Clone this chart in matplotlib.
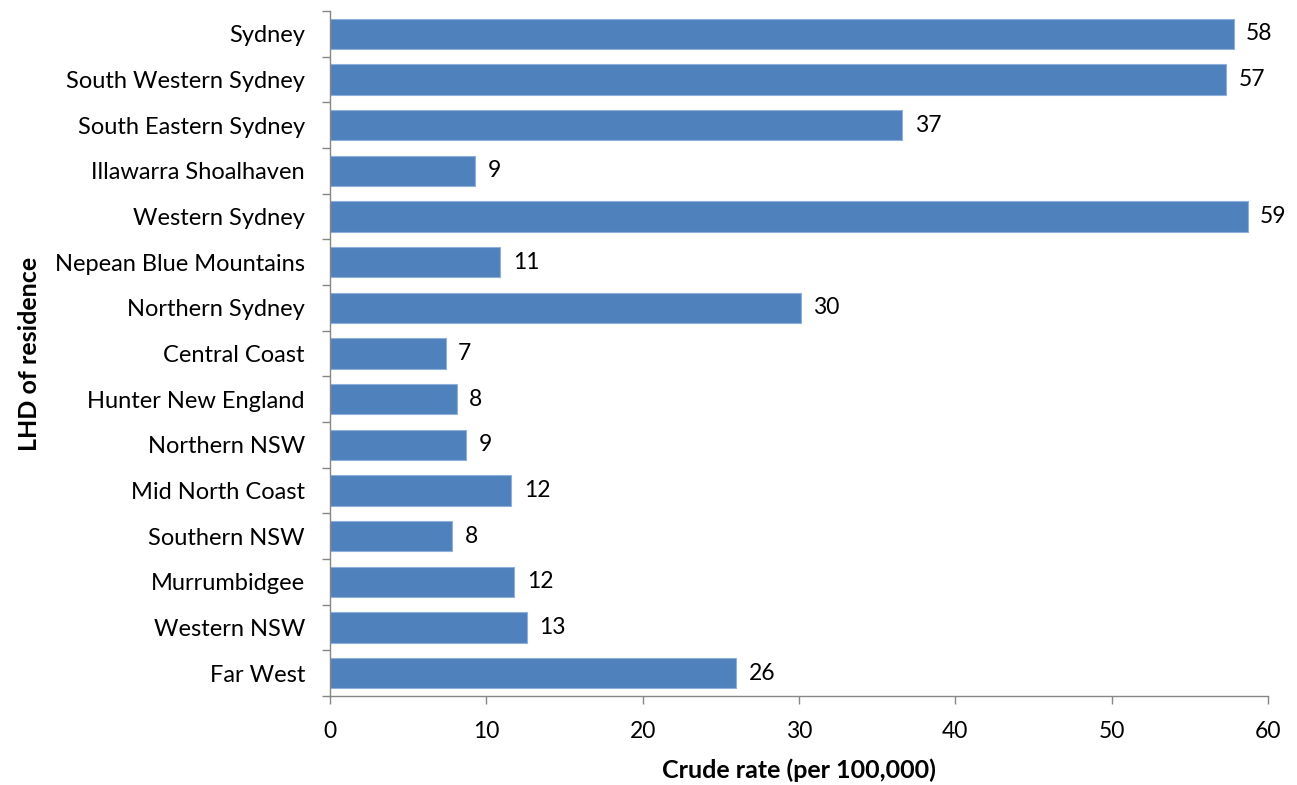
import matplotlib
matplotlib.use("Agg")
import matplotlib.pyplot as plt
import numpy as np

plt.rcParams["font.family"] = ["Lato", "DejaVu Sans"]

# crude rate per 100,000 by LHD of residence (top to bottom)
districts = [
    "Sydney", "South Western Sydney", "South Eastern Sydney", "Illawarra Shoalhaven",
    "Western Sydney", "Nepean Blue Mountains", "Northern Sydney", "Central Coast",
    "Hunter New England", "Northern NSW", "Mid North Coast", "Southern NSW",
    "Murrumbidgee", "Western NSW", "Far West",
]
rates = [57.8, 57.3, 36.6, 9.3, 58.7, 10.9, 30.1, 7.4, 8.1, 8.7, 11.6, 7.8, 11.8, 12.6, 26.0]

fig = plt.figure(figsize=(12.97, 7.85), dpi=100)
ax = fig.add_axes([0.2544, 0.1134, 0.7233, 0.8726])

y = np.arange(len(districts))
bars = ax.barh(y, rates, height=0.66, color="#4F81BD", edgecolor="#8EB0DA", linewidth=0.8)

for b, v in zip(bars, rates):
    ax.text(b.get_width() + 0.8, b.get_y() + b.get_height() / 2, f"{v:.0f}",
            va="center", ha="left", fontsize=16.5)

ax.set_ylim(len(districts) - 0.5, -0.5)
ax.set_xlim(0, 60)
ax.set_xticks(range(0, 61, 10))
ax.set_yticks(y)
ax.set_yticklabels(districts, fontsize=17)
ax.set_yticks(np.arange(-0.5, len(districts), 1), minor=True)
ax.tick_params(axis="y", which="major", length=0, pad=18)
ax.tick_params(axis="y", which="minor", length=6, color="#868686", width=1)
ax.tick_params(axis="x", length=6, color="#868686", width=1, labelsize=16.5, pad=12)

for side in ["top", "right"]:
    ax.spines[side].set_visible(False)
for side in ["left", "bottom"]:
    ax.spines[side].set_color("#868686")
    ax.spines[side].set_linewidth(1)

ax.set_xlabel("Crude rate (per 100,000)", fontsize=18, fontweight="bold", labelpad=12)
ax.set_ylabel("LHD of residence", fontsize=18, fontweight="bold", labelpad=10)

fig.savefig("out.png", dpi=100)
